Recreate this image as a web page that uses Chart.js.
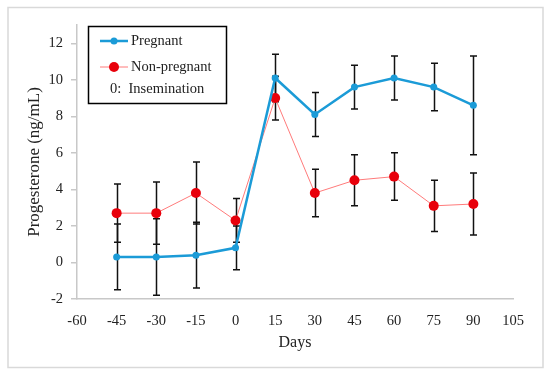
<!DOCTYPE html>
<html lang="en">
<head>
  <meta charset="UTF-8">
  <title>Progesterone</title>
  <script src="https://cdn.jsdelivr.net/npm/chart.js"></script>
  <style>
    body {
      margin: 0;
      background: #fff;
    }
    #wrap {
      width: 550px;
      height: 375px;
    }
  </style>
</head>
<body>
  <div id="wrap"><canvas id="chart" width="550" height="375"></canvas></div>

  <script>
    const days = [-45, -30, -15, 0, 15, 30, 45, 60, 75, 90];
    const pregnant = [0.3, 0.3, 0.4, 0.8, 10.1, 8.1, 9.6, 10.1, 9.6, 8.6];
    const pregnantErr = [1.8, 2.1, 1.8, 1.2, 1.3, 1.2, 1.2, 1.2, 1.3, 2.7];
    const nonPregnant = [2.7, 2.7, 3.8, 2.3, 9.0, 3.8, 4.5, 4.7, 3.1, 3.2];
    const nonPregnantErr = [1.6, 1.7, 1.7, 1.2, 1.2, 1.3, 1.4, 1.3, 1.4, 1.7];
    const legendLabels = ['Pregnant', 'Non-pregnant', '0:  Insemination'];

    const blue = '#1b9bd7';
    const red = '#e8000b';
    const redLine = '#ff7b7b';
    const font = "'Liberation Serif', 'Times New Roman', serif";

    const toPoints = (vals) => vals.map((v, i) => ({ x: days[i], y: v }));

    // white background + light grey frame
    const framePlugin = {
      id: 'frame',
      beforeDraw(chart) {
        const ctx = chart.ctx;
        ctx.save();
        ctx.fillStyle = '#fff';
        ctx.fillRect(0, 0, chart.width, chart.height);
        ctx.strokeStyle = '#d9d9d9';
        ctx.lineWidth = 1.5;
        ctx.strokeRect(8, 7.5, 535, 360);
        ctx.restore();
      }
    };

    // vertical error bars with caps
    const errorBars = {
      id: 'errorBars',
      beforeDatasetsDraw(chart) {
        const ctx = chart.ctx;
        const xs = chart.scales.x, ys = chart.scales.y;
        const sets = [[pregnant, pregnantErr], [nonPregnant, nonPregnantErr]];
        ctx.save();
        ctx.strokeStyle = '#111';
        ctx.lineWidth = 1.5;
        sets.forEach(([vals, errs]) => {
          vals.forEach((v, i) => {
            const px = Math.round(xs.getPixelForValue(days[i])) + 0.5;
            const top = ys.getPixelForValue(v + errs[i]);
            const bot = ys.getPixelForValue(v - errs[i]);
            ctx.beginPath();
            ctx.moveTo(px, top); ctx.lineTo(px, bot);
            ctx.moveTo(px - 3.5, top); ctx.lineTo(px + 3.5, top);
            ctx.moveTo(px - 3.5, bot); ctx.lineTo(px + 3.5, bot);
            ctx.stroke();
          });
        });
        ctx.restore();
      }
    };

    // boxed legend inside the plot
    const boxLegend = {
      id: 'boxLegend',
      afterDraw(chart) {
        const ctx = chart.ctx;
        ctx.save();
        ctx.strokeStyle = '#000';
        ctx.lineWidth = 1.5;
        ctx.strokeRect(88.5, 26.5, 138, 77);

        ctx.font = '14.5px ' + font;
        ctx.fillStyle = '#222';
        ctx.textBaseline = 'middle';

        // Pregnant
        ctx.strokeStyle = blue;
        ctx.lineWidth = 2.5;
        ctx.beginPath(); ctx.moveTo(100, 41); ctx.lineTo(128, 41); ctx.stroke();
        ctx.fillStyle = blue;
        ctx.beginPath(); ctx.arc(114, 41, 3.5, 0, Math.PI * 2); ctx.fill();
        ctx.fillStyle = '#222';
        ctx.fillText(legendLabels[0], 131, 41);

        // Non-pregnant
        ctx.strokeStyle = redLine;
        ctx.lineWidth = 1;
        ctx.beginPath(); ctx.moveTo(100, 67); ctx.lineTo(128, 67); ctx.stroke();
        ctx.fillStyle = red;
        ctx.beginPath(); ctx.arc(114, 67, 5, 0, Math.PI * 2); ctx.fill();
        ctx.fillStyle = '#222';
        ctx.fillText(legendLabels[1], 131, 67);

        ctx.fillText(legendLabels[2], 110, 89);
        ctx.restore();
      }
    };

    new Chart(document.getElementById('chart'), {
      type: 'line',
      data: {
        datasets: [
          {
            label: 'Pregnant',
            data: toPoints(pregnant),
            borderColor: blue,
            backgroundColor: blue,
            borderWidth: 2.5,
            pointRadius: 3.5,
            pointBorderWidth: 0,
            tension: 0
          },
          {
            label: 'Non-pregnant',
            data: toPoints(nonPregnant),
            borderColor: redLine,
            backgroundColor: red,
            borderWidth: 1,
            pointRadius: 5,
            pointBorderWidth: 0,
            tension: 0
          }
        ]
      },
      options: {
        responsive: false,
        animation: false,
        layout: { padding: { left: 20, top: 25, right: 37, bottom: 21 } },
        plugins: {
          legend: { display: false },
          tooltip: { enabled: false }
        },
        scales: {
          x: {
            type: 'linear',
            min: -60,
            max: 105,
            afterFit(scale) { scale.height = 55; },
            ticks: {
              stepSize: 15,
              padding: 13,
              color: '#222',
              font: { family: font, size: 14.5 }
            },
            grid: { drawOnChartArea: false, drawTicks: false },
            border: { color: '#c8c8c8', width: 1.5 },
            title: {
              display: true,
              text: 'Days',
              color: '#222',
              padding: { top: 0, bottom: 2 },
              font: { family: font, size: 16 }
            }
          },
          y: {
            min: -2,
            max: 13,
            afterFit(scale) { scale.width = 57; },
            afterBuildTicks(scale) {
              scale.ticks = scale.ticks.filter(t => t.value <= 12);
            },
            ticks: {
              stepSize: 2,
              padding: 8,
              color: '#222',
              font: { family: font, size: 14.5 }
            },
            grid: { drawOnChartArea: false, drawTicks: true, tickLength: 6, color: '#c8c8c8', lineWidth: 1.5 },
            border: { color: '#c8c8c8', width: 1.5 },
            title: {
              display: true,
              text: 'Progesterone (ng/mL)',
              color: '#222',
              padding: { top: 4, bottom: 2 },
              font: { family: font, size: 17 }
            }
          }
        }
      },
      plugins: [framePlugin, errorBars, boxLegend]
    });
  </script>
</body>
</html>
